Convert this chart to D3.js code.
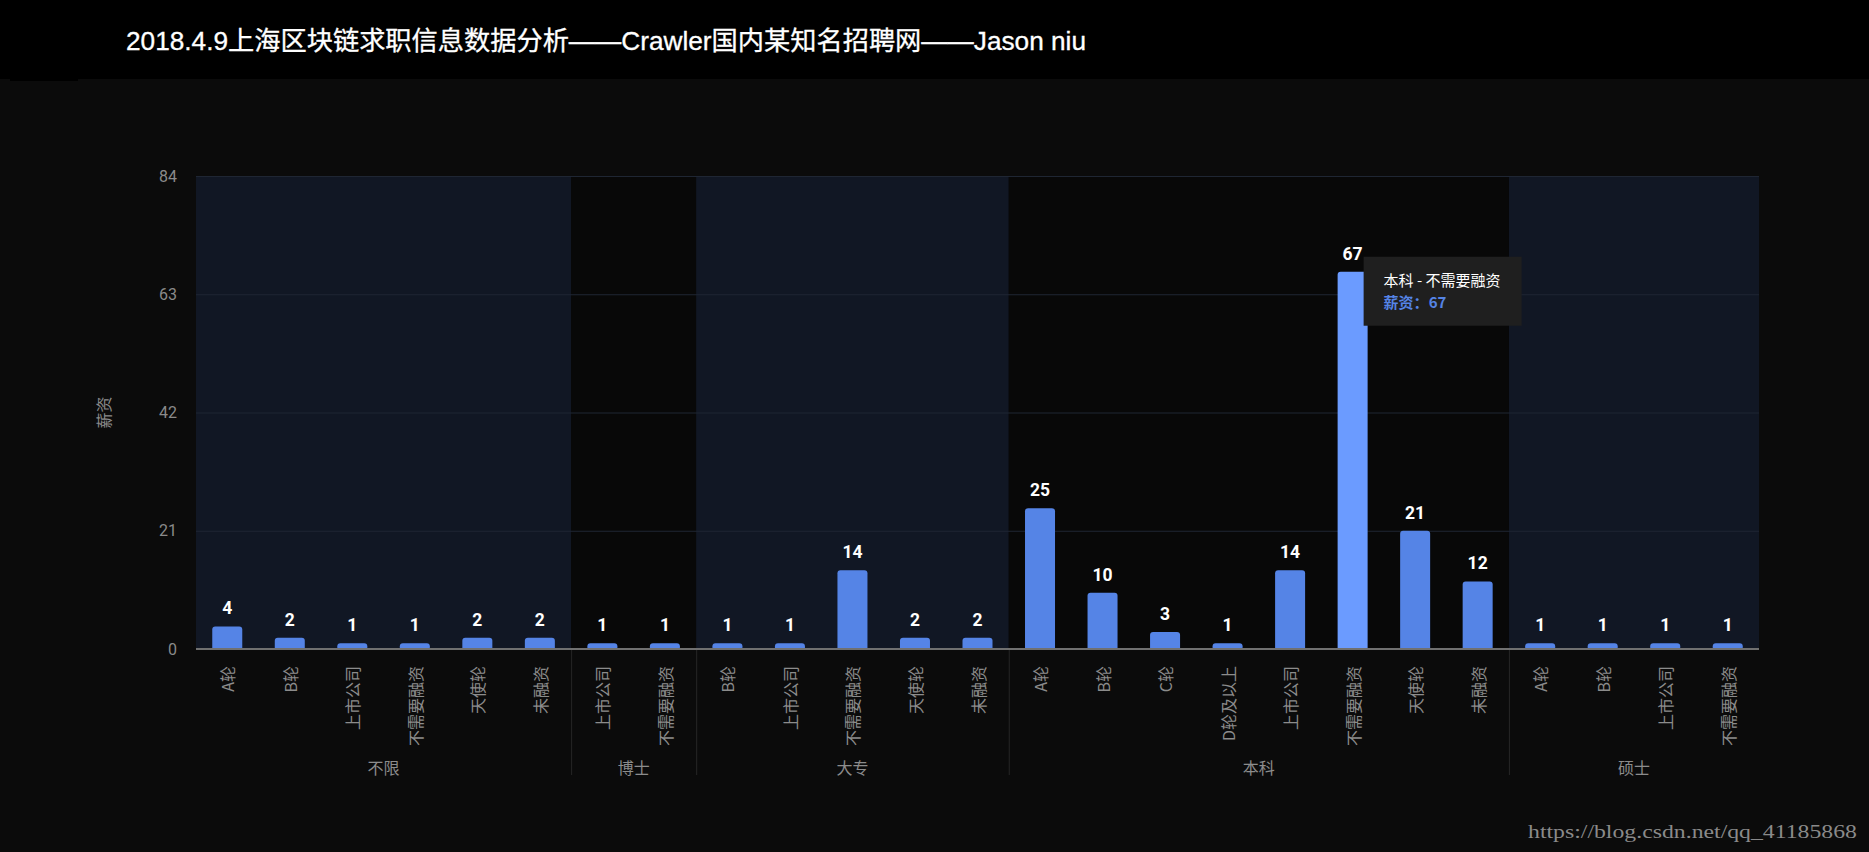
<!DOCTYPE html>
<html>
<head>
<meta charset="utf-8">
<script src="https://cdn.jsdelivr.net/npm/d3@7/dist/d3.min.js"></script>
<style>
  html, body { margin: 0; padding: 0; background: #0b0b0b; }
  svg { display: block; }
</style>
</head>
<body>
<svg id="chart" width="1869" height="852"></svg>
<script>
// ---------- data ----------
const titleText = "2018.4.9上海区块链求职信息数据分析——Crawler国内某知名招聘网——Jason niu";
const groupNames = ["不限", "博士", "大专", "本科", "硕士"];
const education = ["不限","不限","不限","不限","不限","不限",
                   "博士","博士",
                   "大专","大专","大专","大专","大专",
                   "本科","本科","本科","本科","本科","本科","本科","本科",
                   "硕士","硕士","硕士","硕士"];
const financing = ["A轮","B轮","上市公司","不需要融资","天使轮","未融资",
                   "上市公司","不需要融资",
                   "B轮","上市公司","不需要融资","天使轮","未融资",
                   "A轮","B轮","C轮","D轮及以上","上市公司","不需要融资","天使轮","未融资",
                   "A轮","B轮","上市公司","不需要融资"];
const salary = [4,2,1,1,2,2, 1,1, 1,1,14,2,2, 25,10,3,1,14,67,21,12, 1,1,1,1];
const yTicks = [0, 21, 42, 63, 84];
const yAxisName = "薪资";
const highlightIndex = 18;
const watermark = "https://blog.csdn.net/qq_41185868";

// ---------- layout ----------
const W = 1869, H = 852;
const plot = { left: 196, right: 1759, top: 176, bottom: 649 };
const svg = d3.select("#chart");
const cjk = "'Noto Sans CJK SC', 'Noto Sans', sans-serif";

svg.append("rect").attr("width", W).attr("height", H).attr("fill", "#0b0b0b");
svg.append("rect").attr("width", W).attr("height", 79).attr("fill", "#000");
svg.append("rect").attr("x", 10).attr("y", 79).attr("width", 68).attr("height", 2).attr("fill", "#000");

svg.append("text")
  .attr("x", 126).attr("y", 50)
  .attr("fill", "#fff")
  .attr("font-family", "'Liberation Sans', 'Noto Sans CJK SC', sans-serif")
  .attr("font-size", 26)
  .attr("stroke", "#fff").attr("stroke-width", 0.3)
  .attr("textLength", 960).attr("lengthAdjust", "spacingAndGlyphs")
  .text(titleText);

const idx = d3.range(salary.length);
const x = d3.scaleBand().domain(idx).range([plot.left, plot.right]).paddingInner(0.52).paddingOuter(0.26);
const step = x.step();
const y = d3.scaleLinear().domain([0, 84]).range([plot.bottom, plot.top]);

// group extents
const groups = groupNames.map(g => {
  const members = idx.filter(i => education[i] === g);
  return { name: g, start: d3.min(members), end: d3.max(members) };
});
const gx0 = g => plot.left + g.start * step;
const gx1 = g => plot.left + (g.end + 1) * step;

// alternating group backgrounds
svg.append("g").selectAll("rect").data(groups).join("rect")
  .attr("x", gx0).attr("width", g => gx1(g) - gx0(g))
  .attr("y", plot.top).attr("height", plot.bottom - plot.top)
  .attr("fill", (g, i) => i % 2 === 0 ? "#111724" : "#080808");

// grid lines
svg.append("g").selectAll("line").data(yTicks.filter(t => t > 0)).join("line")
  .attr("x1", plot.left).attr("x2", plot.right)
  .attr("y1", d => y(d) + 0.5).attr("y2", d => y(d) + 0.5)
  .attr("stroke", "#1f2633").attr("stroke-width", 1);

// y axis
const yAxis = svg.append("g").attr("transform", `translate(${plot.left - 19},0)`)
  .call(d3.axisLeft(y).tickValues(yTicks).tickSize(0).tickPadding(0));
yAxis.select(".domain").remove();
yAxis.selectAll("text").attr("fill", "#8a8a8a").attr("font-size", 16)
  .attr("font-family", "Roboto, 'Noto Sans', sans-serif");

svg.append("text")
  .attr("transform", `translate(103,${(plot.top + plot.bottom) / 2}) rotate(-90)`)
  .attr("text-anchor", "middle").attr("dominant-baseline", "central")
  .attr("fill", "#8a8a8a").attr("font-size", 16).attr("font-family", cjk)
  .text(yAxisName);

// group separators below axis
svg.append("g").selectAll("line").data(groups.slice(1)).join("line")
  .attr("x1", g => gx0(g) + 0.5).attr("x2", g => gx0(g) + 0.5)
  .attr("y1", plot.bottom).attr("y2", 775)
  .attr("stroke", "#262626").attr("stroke-width", 1);

// bars
function topRounded(x0, y0, w, h, r) {
  r = Math.min(r, h, w / 2);
  return `M${x0},${y0 + h}V${y0 + r}Q${x0},${y0} ${x0 + r},${y0}H${x0 + w - r}Q${x0 + w},${y0} ${x0 + w},${y0 + r}V${y0 + h}Z`;
}
svg.append("g").selectAll("path").data(idx).join("path")
  .attr("d", i => topRounded(x(i), y(salary[i]), x.bandwidth(), y(0) - y(salary[i]), 3))
  .attr("fill", i => i === highlightIndex ? "#6b9bff" : "#5584e6");

// value labels
svg.append("g").selectAll("text").data(idx).join("text")
  .attr("x", i => x(i) + x.bandwidth() / 2)
  .attr("y", i => y(salary[i]) - 12)
  .attr("text-anchor", "middle")
  .attr("fill", "#fff").attr("font-weight", "bold").attr("font-size", 17.5)
  .attr("font-family", "Roboto, 'Noto Sans', sans-serif")
  .text(i => salary[i]);

// axis line
svg.append("line")
  .attr("x1", plot.left).attr("x2", plot.right)
  .attr("y1", plot.bottom).attr("y2", plot.bottom)
  .attr("stroke", "#707070").attr("stroke-width", 2);

// x labels (rotated)
svg.append("g").selectAll("text").data(idx).join("text")
  .attr("transform", i => `translate(${x(i) + x.bandwidth() / 2},${plot.bottom + 17}) rotate(-90)`)
  .attr("text-anchor", "end").attr("dominant-baseline", "central")
  .attr("fill", "#8c8c8c").attr("font-size", 16).attr("font-family", cjk)
  .text(i => financing[i]);

// group labels
svg.append("g").selectAll("text").data(groups).join("text")
  .attr("x", g => (gx0(g) + gx1(g)) / 2).attr("y", 767)
  .attr("text-anchor", "middle").attr("dominant-baseline", "central")
  .attr("fill", "#8c8c8c").attr("font-size", 16).attr("font-family", cjk)
  .text(g => g.name);

// tooltip
const tx = x(highlightIndex) + x.bandwidth() - 4;
const ty = y(salary[highlightIndex]) - 15;
const tip = svg.append("g").attr("transform", `translate(${tx},${ty})`);
tip.append("rect").attr("width", 158).attr("height", 69).attr("fill", "#1f1f1f");
tip.append("text").attr("x", 20).attr("y", 29)
  .attr("fill", "#fff").attr("font-size", 15).attr("font-family", cjk)
  .text(`${education[highlightIndex]} - ${financing[highlightIndex]}`);
tip.append("text").attr("x", 20).attr("y", 51)
  .attr("fill", "#5584e6").attr("font-size", 15).attr("font-weight", "bold").attr("font-family", cjk)
  .text(`${yAxisName}：${salary[highlightIndex]}`);

// watermark
svg.append("text")
  .attr("x", 1528).attr("y", 838)
  .attr("fill", "#8a8a8a").attr("font-size", 18)
  .attr("font-family", "'Liberation Serif', serif")
  .attr("textLength", 329).attr("lengthAdjust", "spacingAndGlyphs")
  .text(watermark);
</script>
</body>
</html>
